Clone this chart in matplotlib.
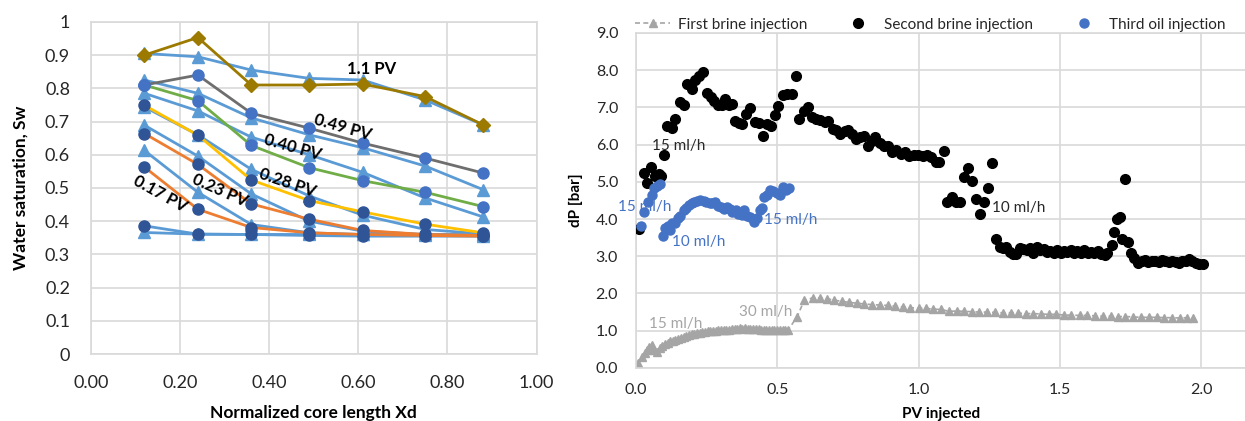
import matplotlib
matplotlib.use("Agg")
import numpy as np
import matplotlib.pyplot as plt

plt.rcParams['font.family'] = ['Lato', 'DejaVu Sans']

# ---- left chart: water saturation profiles ----
xd = [0.12, 0.24, 0.36, 0.49, 0.61, 0.75, 0.88]

# experiment (circles, coloured lines)
exp_110 = [0.900, 0.953, 0.810, 0.810, 0.813, 0.775, 0.690]
exp_049 = [0.810, 0.840, 0.725, 0.680, 0.635, 0.590, 0.545]
exp_040 = [0.810, 0.763, 0.628, 0.561, 0.522, 0.487, 0.444]
exp_028 = [0.749, 0.659, 0.524, 0.462, 0.428, 0.391, 0.365]
exp_023 = [0.664, 0.571, 0.452, 0.406, 0.372, 0.360, 0.357]
exp_017 = [0.563, 0.436, 0.381, 0.365, 0.360, 0.357, 0.355]
exp_000 = [0.386, 0.361, 0.360, 0.357, 0.355, 0.355, 0.355]

# simulation (triangles, light blue)
sim_110 = [0.905, 0.895, 0.855, 0.830, 0.825, 0.765, 0.690]
sim_049 = [0.825, 0.785, 0.711, 0.660, 0.621, 0.566, 0.495]
sim_040 = [0.785, 0.732, 0.653, 0.600, 0.547, 0.470, 0.413]
sim_028 = [0.744, 0.660, 0.556, 0.476, 0.418, 0.375, 0.362]
sim_023 = [0.689, 0.596, 0.482, 0.400, 0.370, 0.360, 0.358]
sim_017 = [0.613, 0.487, 0.390, 0.365, 0.360, 0.357, 0.356]
sim_000 = [0.366, 0.361, 0.360, 0.360, 0.360, 0.360, 0.360]

pv_labels = ['1.1 PV', '0.49 PV', '0.40 PV', '0.28 PV', '0.23 PV', '0.17 PV']

# ---- right chart: pressure drop ----
# first brine injection
pv1 = [0.008, 0.020, 0.030, 0.038, 0.047, 0.056, 0.064, 0.073, 0.083, 0.092,
       0.102, 0.111, 0.120, 0.130, 0.139, 0.149, 0.158, 0.168, 0.177, 0.187,
       0.196, 0.206, 0.215, 0.225, 0.234, 0.243, 0.253, 0.262, 0.272, 0.281,
       0.291, 0.300, 0.310, 0.319, 0.329, 0.338, 0.348, 0.357, 0.366, 0.376,
       0.385, 0.395, 0.404, 0.414, 0.423, 0.433, 0.442, 0.452, 0.461, 0.470,
       0.480, 0.489, 0.499, 0.508, 0.518, 0.527, 0.537,
       0.570, 0.595, 0.625, 0.650, 0.675, 0.700, 0.727, 0.755, 0.780, 0.807,
       0.835, 0.862, 0.890, 0.917, 0.945, 0.970, 1.000, 1.025, 1.052, 1.080,
       1.107, 1.135, 1.160, 1.190, 1.215, 1.242, 1.270, 1.297, 1.325, 1.352,
       1.380, 1.405, 1.432, 1.460, 1.487, 1.515, 1.540, 1.570, 1.597, 1.625,
       1.652, 1.680, 1.705, 1.732, 1.760, 1.787, 1.815, 1.842, 1.870, 1.897,
       1.925, 1.950, 1.970]
dp1 = [0.13, 0.29, 0.39, 0.48, 0.56, 0.62, 0.48, 0.44, 0.53, 0.59,
       0.64, 0.68, 0.72, 0.73, 0.76, 0.79, 0.81, 0.83, 0.85, 0.88,
       0.90, 0.91, 0.93, 0.95, 0.96, 0.97, 0.98, 0.98, 0.99, 1.00,
       1.01, 1.01, 1.02, 1.02, 1.03, 1.04, 1.04, 1.05, 1.06, 1.05,
       1.06, 1.05, 1.05, 1.04, 1.04, 1.04, 1.03, 1.03, 1.03, 1.02,
       1.02, 1.02, 1.01, 1.01, 1.02, 1.02, 1.01,
       1.38, 1.82, 1.88, 1.88, 1.86, 1.82, 1.79, 1.76, 1.74, 1.72,
       1.70, 1.69, 1.68, 1.66, 1.64, 1.62, 1.60, 1.60, 1.58, 1.57,
       1.52, 1.53, 1.52, 1.51, 1.50, 1.50, 1.49, 1.48, 1.48, 1.47,
       1.46, 1.46, 1.45, 1.44, 1.44, 1.42, 1.42, 1.41, 1.41, 1.40,
       1.39, 1.39, 1.38, 1.38, 1.37, 1.36, 1.36, 1.36, 1.35, 1.35,
       1.34, 1.35, 1.35]

# second brine injection
pv2 = [0.011, 0.026, 0.039, 0.054, 0.067, 0.082, 0.088, 0.097, 0.110, 0.125,
       0.139, 0.155, 0.169, 0.181, 0.197, 0.209, 0.221, 0.237, 0.252, 0.265,
       0.277, 0.289, 0.302, 0.314, 0.327, 0.339, 0.351, 0.364, 0.376, 0.389,
       0.404, 0.419, 0.435, 0.450, 0.463, 0.478, 0.491, 0.503, 0.519, 0.534,
       0.550, 0.565, 0.577, 0.593, 0.608, 0.621, 0.636, 0.652, 0.667, 0.680,
       0.695, 0.707, 0.723, 0.738, 0.751, 0.763, 0.779, 0.791, 0.807, 0.822,
       0.834, 0.847, 0.862, 0.878, 0.893, 0.906, 0.921, 0.937, 0.952, 0.967,
       0.983, 0.998, 1.014, 1.029, 1.045, 1.060, 1.073, 1.089, 1.100, 1.118,
       1.132, 1.145, 1.160, 1.175, 1.187, 1.203, 1.216, 1.230, 1.246, 1.260,
       1.274, 1.286, 1.298, 1.310, 1.322, 1.334, 1.346, 1.358, 1.370, 1.382,
       1.394, 1.406, 1.418, 1.430, 1.442, 1.454, 1.466, 1.478, 1.490, 1.502,
       1.514, 1.526, 1.538, 1.550, 1.562, 1.574, 1.586, 1.598, 1.610, 1.622,
       1.634, 1.646, 1.658, 1.668, 1.683, 1.693, 1.703, 1.713, 1.720, 1.730,
       1.742, 1.750, 1.762, 1.777, 1.789, 1.801, 1.813, 1.825, 1.837, 1.849,
       1.861, 1.873, 1.885, 1.897, 1.909, 1.921, 1.933, 1.945, 1.957, 1.969,
       1.981, 1.993, 2.005]
dp2 = [3.72, 5.23, 4.98, 5.41, 5.16, 5.20, 5.16, 5.73, 6.51, 6.44,
       6.69, 7.14, 7.06, 7.63, 7.50, 7.74, 7.84, 7.94, 7.38, 7.29,
       7.18, 7.06, 7.05, 7.23, 7.05, 7.09, 6.62, 6.58, 6.55, 6.82,
       6.97, 6.60, 6.58, 6.24, 6.54, 6.51, 6.78, 7.03, 7.34, 7.36,
       7.36, 7.85, 6.69, 6.91, 7.00, 6.73, 6.69, 6.66, 6.60, 6.64,
       6.42, 6.40, 6.28, 6.37, 6.40, 6.28, 6.15, 6.19, 6.22, 5.97,
       6.10, 6.19, 6.03, 5.97, 5.97, 5.79, 5.86, 5.74, 5.79, 5.70,
       5.72, 5.72, 5.70, 5.72, 5.66, 5.54, 5.54, 5.83, 4.47, 4.58,
       4.47, 4.47, 5.12, 5.36, 5.02, 4.55, 4.14, 4.45, 4.82, 5.50,
       3.47, 3.26, 3.22, 3.25, 3.12, 3.06, 3.07, 3.22, 3.20, 3.18,
       3.21, 3.10, 3.24, 3.18, 3.20, 3.12, 3.14, 3.08, 3.16, 3.10,
       3.15, 3.12, 3.18, 3.08, 3.14, 3.10, 3.16, 3.08, 3.12, 3.10,
       3.13, 3.06, 3.04, 3.10, 3.30, 3.66, 3.99, 4.06, 3.46, 5.08,
       3.39, 3.08, 2.95, 2.81, 2.86, 2.90, 2.84, 2.86, 2.88, 2.84,
       2.90, 2.86, 2.84, 2.88, 2.85, 2.82, 2.88, 2.86, 2.92, 2.88,
       2.82, 2.79, 2.78]

# third oil injection
pv3 = [0.017, 0.028, 0.043, 0.056, 0.064, 0.075, 0.085, 0.095, 0.103, 0.111,
       0.120, 0.126, 0.136, 0.147, 0.156, 0.168, 0.177, 0.187, 0.196, 0.206,
       0.215, 0.227, 0.239, 0.248, 0.260, 0.270, 0.279, 0.291, 0.300, 0.310,
       0.321, 0.331, 0.340, 0.352, 0.362, 0.374, 0.383, 0.392, 0.404, 0.416,
       0.426, 0.437, 0.447, 0.452, 0.463, 0.475, 0.485, 0.499, 0.508, 0.518,
       0.530, 0.541]
dp3 = [3.82, 4.20, 4.45, 4.65, 4.83, 4.88, 4.94, 3.55, 3.75, 3.80,
       3.70, 3.89, 3.90, 4.02, 4.09, 4.24, 4.29, 4.38, 4.42, 4.47,
       4.49, 4.51, 4.49, 4.47, 4.44, 4.42, 4.45, 4.36, 4.31, 4.26,
       4.33, 4.26, 4.18, 4.23, 4.14, 4.11, 4.24, 4.08, 4.06, 3.93,
       4.02, 4.24, 4.29, 4.60, 4.65, 4.78, 4.74, 4.71, 4.65, 4.87,
       4.78, 4.83]

grid_c = '#D9D9D9'
lblue = '#5B9BD5'
mid_blue = '#4472C4'
dark_blue = '#2F5597'

fig = plt.figure(figsize=(12.45, 4.21), dpi=100)

# ---------------- left ----------------
ax1 = fig.add_axes([0.073, 0.159, 0.358, 0.789])

sims = [sim_110, sim_049, sim_040, sim_028, sim_023, sim_017, sim_000]
for s in sims:
    ax1.plot(xd, s, color=lblue, lw=2, marker='^', ms=8, mfc=lblue, mec=lblue, zorder=2)

exps = [(exp_000, lblue, dark_blue, 'o'),
        (exp_017, '#ED7D31', dark_blue, 'o'),
        (exp_023, '#ED7D31', dark_blue, 'o'),
        (exp_028, '#FFC000', dark_blue, 'o'),
        (exp_040, '#70AD47', mid_blue, 'o'),
        (exp_049, '#6E6E6E', mid_blue, 'o'),
        (exp_110, '#9C7A00', '#9C7A00', 'D')]
for s, lc, mc, m in exps:
    ax1.plot(xd, s, color=lc, lw=2, marker=m, ms=8 if m == 'o' else 7,
             mfc=mc, mec=mc, zorder=3)

# curve labels
label_pos = [(0.63, 0.857, 0), (0.565, 0.683, -16), (0.452, 0.622, -16),
             (0.44, 0.516, -19), (0.29, 0.494, -24), (0.155, 0.482, -29)]
for t, (x, y, r) in zip(pv_labels, label_pos):
    ax1.text(x, y, t, rotation=r, ha='center', va='center', fontsize=12,
             fontweight='bold', color='black', zorder=5)

ax1.set_xlim(0, 1)
ax1.set_ylim(0, 1)
ax1.set_xticks(np.arange(0, 1.01, 0.2))
ax1.set_xticklabels(['0.00', '0.20', '0.40', '0.60', '0.80', '1.00'])
ax1.set_yticks(np.arange(0, 1.01, 0.1))
ax1.set_yticklabels(['0', '0.1', '0.2', '0.3', '0.4', '0.5', '0.6', '0.7', '0.8', '0.9', '1'])
ax1.tick_params(length=0, labelsize=13, colors='#262626')
ax1.tick_params(axis='y', pad=15)
ax1.tick_params(axis='x', pad=15)
ax1.grid(True, color=grid_c, lw=1.2)
ax1.set_axisbelow(True)
for sp in ax1.spines.values():
    sp.set_color(grid_c)
    sp.set_linewidth(1.2)
ax1.set_xlabel('Normalized core length Xd', fontsize=12.5, fontweight='bold', labelpad=10)
ax1.set_ylabel('Water saturation, Sw', fontsize=12.5, fontweight='bold', labelpad=12)

# ---------------- right ----------------
ax2 = fig.add_axes([0.511, 0.126, 0.489, 0.796])

ax2.plot(pv1, dp1, color='#A5A5A5', lw=1.2, ls=(0, (3, 2)), marker='^', ms=6,
         mfc='#A5A5A5', mec='#A5A5A5', label='First brine injection', zorder=2)
ax2.plot(pv2, dp2, ls='none', marker='o', ms=7, mfc='black', mec='black',
         label='Second brine injection', zorder=3)
ax2.plot(pv3, dp3, ls='none', marker='o', ms=6.5, mfc='#4472C4', mec='#4472C4',
         label='Third oil injection', zorder=4)

ax2.text(0.15, 5.97, '15 ml/h', fontsize=11, color='#262626', ha='center', va='center', zorder=5)
ax2.text(1.355, 4.29, '10 ml/h', fontsize=11, color='#262626', ha='center', va='center', zorder=5)
ax2.text(0.03, 4.31, '15 ml/h', fontsize=11, color='#4472C4', ha='center', va='center', zorder=5)
ax2.text(0.222, 3.37, '10 ml/h', fontsize=11, color='#4472C4', ha='center', va='center', zorder=5)
ax2.text(0.546, 3.98, '15 ml/h', fontsize=11, color='#4472C4', ha='center', va='center', zorder=5)
ax2.text(0.139, 1.18, '15 ml/h', fontsize=11, color='#A5A5A5', ha='center', va='center', zorder=5)
ax2.text(0.457, 1.51, '30 ml/h', fontsize=11, color='#A5A5A5', ha='center', va='center', zorder=5)

ax2.set_xlim(0, 2.155)
ax2.set_ylim(0, 9)
ax2.set_xticks([0, 0.5, 1.0, 1.5, 2.0])
ax2.set_xticklabels(['0.0', '0.5', '1.0', '1.5', '2.0'])
ax2.set_yticks(np.arange(0, 9.1, 1))
ax2.set_yticklabels(['%.1f' % v for v in np.arange(0, 9.1, 1)])
ax2.tick_params(length=0, labelsize=11.5, colors='#262626')
ax2.tick_params(axis='y', pad=13)
ax2.tick_params(axis='x', pad=11)
ax2.grid(True, color=grid_c, lw=1.2)
ax2.set_axisbelow(True)
for k, sp in ax2.spines.items():
    sp.set_color(grid_c)
    sp.set_linewidth(1.2)
ax2.spines['right'].set_visible(False)
ax2.set_xlabel('PV injected', fontsize=11, fontweight='bold', labelpad=7)
ax2.set_ylabel('dP [bar]', fontsize=11, fontweight='bold', labelpad=9)

ax2.legend(loc='lower center', bbox_to_anchor=(0.483, 0.985), ncol=3, frameon=False,
           fontsize=11, handlelength=2.3, handletextpad=0.5, columnspacing=2.2,
           borderaxespad=0, labelcolor='#262626')

fig.savefig('out.png', dpi=100)
